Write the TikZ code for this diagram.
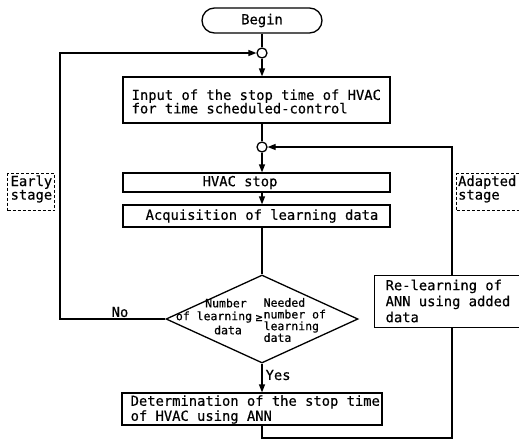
\documentclass[tikz,border=0pt]{standalone}
\usepackage{fontspec}
\newfontfamily\dgfont[FakeBold=0.5]{DejaVu Sans Mono}
\usetikzlibrary{shapes.geometric,arrows.meta}
\begin{document}
\begin{tikzpicture}[x=1pt,y=-1pt, line width=1.3pt,
  every node/.style={font=\dgfont\fontsize{13.8}{13.5}\selectfont},
  box/.style={draw, rectangle, inner sep=0pt},
  txt/.style={inner sep=0pt, align=left, anchor=west},
  junc/.style={draw, circle, minimum size=10pt, inner sep=0pt, fill=white},
  arr/.style={-{Triangle[length=8pt,width=6pt]}},
  dbox/.style={draw, dash pattern=on 3pt off 2pt, line width=1pt, inner sep=0pt, anchor=north west},
  small/.style={font=\dgfont\fontsize{11.5}{11.7}\selectfont, inner sep=0pt},
]
\useasboundingbox (0,0) rectangle (519,440);

\node[draw, rounded corners=12.5pt, minimum width=120pt, minimum height=25pt, inner sep=0pt] (begin) at (262,20.5) {Begin};
\node[junc] (j1) at (262,53) {};
\node[box, minimum width=267pt, minimum height=46pt] (input) at (256.5,100) {};
\node[txt] (inputt) at (131,101.5) {Input of the stop time of HVAC\\for time scheduled-control};
\node[junc] (j2) at (262,147) {};
\node[box, minimum width=267pt, minimum height=19pt] (stop) at (256.5,182.5) {};
\node[txt] (stopt) at (202,182.5) {HVAC stop};
\node[box, minimum width=267pt, minimum height=22pt] (acq) at (256.5,216) {};
\node[txt] (acqt) at (145,216) {Acquisition of learning data};
\node[draw, diamond, minimum width=192pt, minimum height=88pt, inner sep=0pt] (dec) at (262,319) {};
\node[small] (dl1) at (226,303) {Number};
\node[small] (dl2) at (214,317) {of learning};
\node[small] (dl3) at (228,330) {data};
\node[small] (ge) at (259,318) {≥};
\node[small, align=left, anchor=west] (dr) at (263,320) {Needed\\number of\\learning\\data};
\node[box, minimum width=260pt, minimum height=32pt] (det) at (252,409) {};
\node[txt, font=\dgfont\fontsize{13.8}{15}\selectfont] (dett) at (130,409.5) {Determination of the stop time\\of HVAC using ANN};
\node[box, minimum width=150pt, minimum height=52pt, anchor=north west] (rel) at (374,275) {};
\node[txt, font=\dgfont\fontsize{13.8}{16}\selectfont] (relt) at (385,301) {Re-learning of\\ANN using added\\data};
\node[dbox, minimum width=47pt, minimum height=37pt] (early) at (7,173) {};
\node[txt, font=\dgfont\fontsize{13.8}{12}\selectfont] (earlyt) at (10,189) {Early\\stage};
\node[dbox, minimum width=75pt, minimum height=37pt] (adapt) at (456,173) {};
\node[txt, font=\dgfont\fontsize{13.8}{12}\selectfont] (adaptt) at (457.5,189) {Adapted\\stage};

\draw (begin.south) -- (j1);
\draw[arr] (j1) -- (j1 |- input.north);
\draw (j1 |- input.south) -- (j2);
\draw[arr] (j2) -- (j2 |- stop.north);
\draw[arr] (j2 |- stop.south) -- (j2 |- acq.north);
\draw (j2 |- acq.south) -- (dec.north);
\draw[arr] (dec.south) -- (dec.south |- det.north);
\node[txt] (yes) at (265,375) {Yes};
\draw[arr] (dec.west) -- (60,319) -- (60,53) -- (j1.west);
\node[inner sep=0pt] (no) at (120,312) {No};
\coordinate (rb) at (452,438);
\draw (det.south -| j2) -- (j2 |- rb) -- (rb) -- (rb |- rel.south);
\draw[arr] (rb |- rel.north) -- (452,147) -- (j2.east);
\end{tikzpicture}
\end{document}
